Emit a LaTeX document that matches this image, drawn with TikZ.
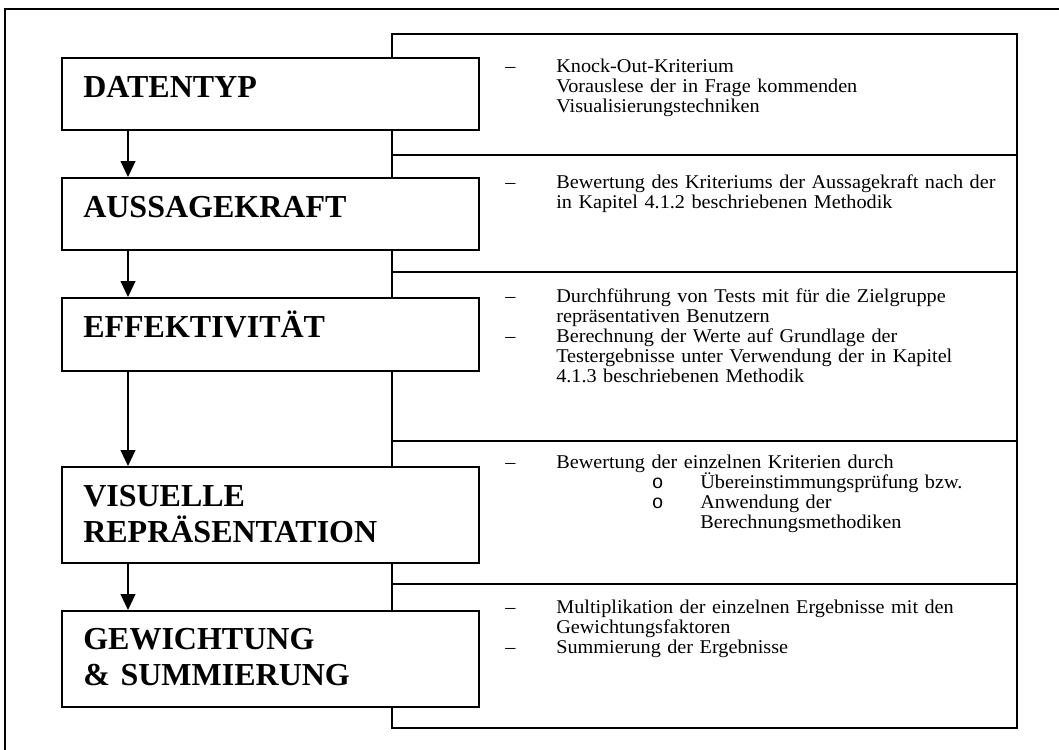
\documentclass[tikz,border=0pt]{standalone}
\usepackage{fontspec}
\setmainfont{Liberation Serif}
\newfontfamily\bodyfont[FakeStretch=1.04]{Liberation Serif}
\newfontfamily\bulletfont{Liberation Mono}
\usetikzlibrary{arrows.meta}

% list helpers for the description column
\newcommand\dashitem{\makebox[38.25pt][l]{–}}
\newcommand\contline{\hspace*{38.25pt}}
\newcommand\circitem{\hspace*{110pt}\makebox[36.25pt][l]{\bulletfont o}}
\newcommand\circcont{\hspace*{146.25pt}}

\begin{document}
\begin{tikzpicture}[x=0.75pt,y=-0.75pt,
  frame/.style={draw,line width=1.4pt},
  descbox/.style={draw,line width=1.4pt,rectangle,inner sep=0pt,minimum width=468.75pt},
  stagebox/.style={draw,line width=1.4pt,fill=white,rectangle,inner sep=0pt,minimum width=312.75pt},
  stagetext/.style={anchor=base west,inner sep=0pt,text width=330pt,
    font=\fontsize{24}{27}\selectfont\bfseries,align=left},
  desctext/.style={anchor=base west,inner sep=0pt,text width=380pt,
    font=\bodyfont\fontsize{14.6}{15}\selectfont,align=left},
  flow/.style={line width=1.4pt,-{Triangle[width=11pt,length=12pt]}}]

\useasboundingbox (0,0) rectangle (1059,749);

% outer frame
\draw[frame] (5,9) rectangle (1075,765);

% description column
\node[descbox,minimum height=90.75pt]  (r1) at (704.2,94.5)  {};
\node[descbox,minimum height=87.75pt]  (r2) at (704.2,213.5) {};
\node[descbox,minimum height=126.75pt] (r3) at (704.2,356.5) {};
\node[descbox,minimum height=107.25pt] (r4) at (704.2,512.5) {};
\node[descbox,minimum height=108pt]    (r5) at (704.2,656)   {};

% stage column
\node[stagebox,minimum height=54pt]    (s1) at (270.5,94)    {};
\node[stagebox,minimum height=54pt]    (s2) at (270.5,214)   {};
\node[stagebox,minimum height=54.75pt] (s3) at (270.5,334.5) {};
\node[stagebox,minimum height=72pt]    (s4) at (270.5,515)   {};
\node[stagebox,minimum height=72pt]    (s5) at (270.5,659)   {};

% stage titles
\node[stagetext] (t1) at (83,98)  {DATENTYP};
\node[stagetext] (t2) at (83,217) {AUSSAGEKRAFT};
\node[stagetext] (t3) at (83,337) {EFFEKTIVITÄT};
\node[stagetext] (t4) at (83,506) {VISUELLE\\REPRÄSENTATION};
\node[stagetext] (t5) at (83,649) {GEWICHTUNG\\\& SUMMIERUNG};

% flow arrows
\coordinate (ax) at (128,0);
\draw[flow] (s1.south -| ax) -- (s2.north -| ax);
\draw[flow] (s2.south -| ax) -- (s3.north -| ax);
\draw[flow] (s3.south -| ax) -- (s4.north -| ax);
\draw[flow] (s4.south -| ax) -- (s5.north -| ax);

% descriptions
\node[desctext] (d1) at (505,73) {%
  \dashitem Knock-Out-Kriterium\\
  \contline Vorauslese der in Frage kommenden\\
  \contline Visualisierungstechniken};
\node[desctext] (d2) at (505,188) {%
  \dashitem Bewertung des Kriteriums der Aussagekraft nach der\\
  \contline in Kapitel 4.1.2 beschriebenen Methodik};
\node[desctext] (d3) at (505,302) {%
  \dashitem Durchführung von Tests mit für die Zielgruppe\\
  \contline repräsentativen Benutzern\\
  \dashitem Berechnung der Werte auf Grundlage der\\
  \contline Testergebnisse unter Verwendung der in Kapitel\\
  \contline 4.1.3 beschriebenen Methodik};
\node[desctext] (d4) at (505,468) {%
  \dashitem Bewertung der einzelnen Kriterien durch\\
  \circitem Übereinstimmungsprüfung bzw.\\
  \circitem Anwendung der\\
  \circcont Berechnungsmethodiken};
\node[desctext] (d5) at (505,613) {%
  \dashitem Multiplikation der einzelnen Ergebnisse mit den\\
  \contline Gewichtungsfaktoren\\
  \dashitem Summierung der Ergebnisse};
\end{tikzpicture}
\end{document}
